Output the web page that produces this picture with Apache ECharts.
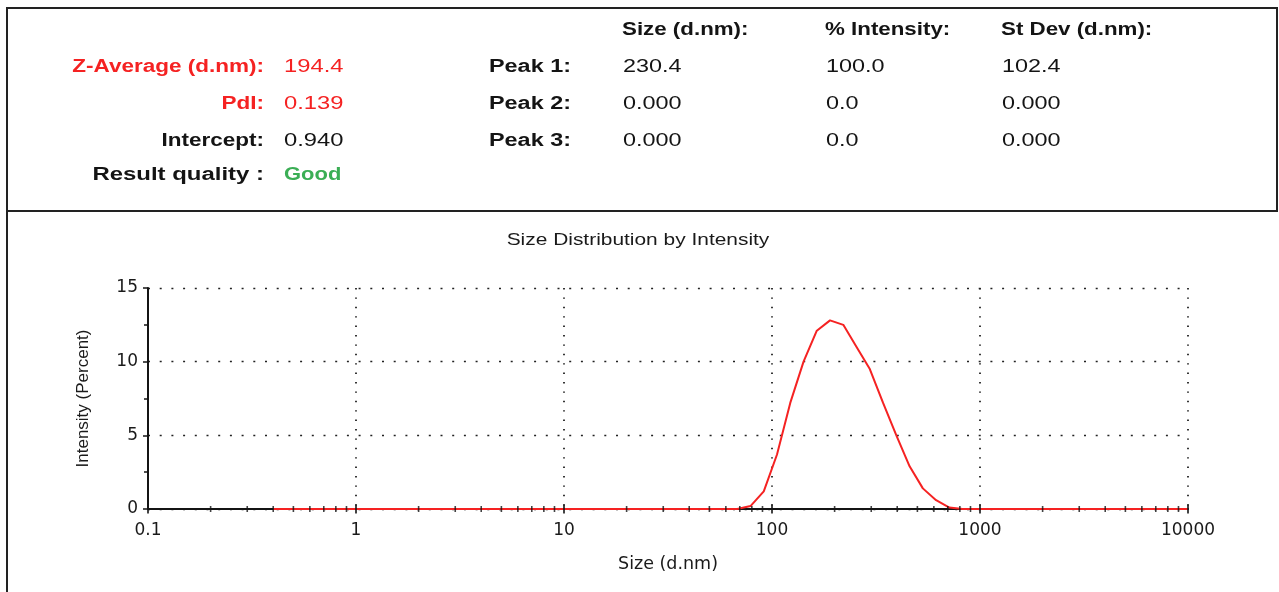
<!DOCTYPE html>
<html>
<head>
<meta charset="utf-8">
<script src="https://cdn.jsdelivr.net/npm/echarts@6/dist/echarts.min.js"></script>
<style>
  html, body { margin: 0; padding: 0; background: #ffffff; }
  #chart { width: 1279px; height: 592px; }
</style>
</head>
<body>
<div id="chart"></div>
<script>
// Size classes (d.nm) of the intensity distribution
const sizes = [
  0.4, 0.4632, 0.5365, 0.6213, 0.7195, 0.8332, 0.9649, 1.117, 1.294, 1.499,
  1.736, 2.01, 2.328, 2.696, 3.122, 3.615, 4.187, 4.849, 5.615, 6.503,
  7.531, 8.721, 10.1, 11.7, 13.54, 15.69, 18.17, 21.04, 24.36, 28.21,
  32.67, 37.84, 43.82, 50.75, 58.77, 68.06, 78.82, 91.28, 105.7, 122.4,
  141.8, 164.2, 190.1, 220.2, 255.0, 295.3, 342.0, 396.1, 458.7, 531.2,
  615.1, 712.4, 825.0, 955.4, 1106, 1281, 1484, 1718, 1990, 2305,
  2669, 3091, 3580, 4145, 4801, 5560, 6439, 7456, 8635, 10000
];

// Intensity (percent) per size class
const intensity = [
  0, 0, 0, 0, 0, 0, 0, 0, 0, 0,
  0, 0, 0, 0, 0, 0, 0, 0, 0, 0,
  0, 0, 0, 0, 0, 0, 0, 0, 0, 0,
  0, 0, 0, 0, 0, 0, 0.2, 1.2, 3.7, 7.2,
  10.0, 12.1, 12.8, 12.5, 11.0, 9.5, 7.2, 5.0, 2.9, 1.4,
  0.6, 0.1, 0, 0, 0, 0, 0, 0, 0, 0,
  0, 0, 0, 0, 0, 0, 0, 0, 0, 0
];

// Summary results
const summaryLabels = ['Z-Average (d.nm):', 'PdI:', 'Intercept:', 'Result quality :'];
const summaryValues = ['194.4', '0.139', '0.940', 'Good'];

// Peak table
const peakHeaders = ['Size (d.nm):', '% Intensity:', 'St Dev (d.nm):'];
const peakLabels = ['Peak 1:', 'Peak 2:', 'Peak 3:'];
const peakSize = ['230.4', '0.000', '0.000'];
const peakIntensity = ['100.0', '0.0', '0.0'];
const peakStDev = ['102.4', '0.000', '0.000'];

// Axis tick layout
const decades = [0.1, 1, 10, 100, 1000, 10000];
const minorSteps = [2, 3, 4, 5, 6, 7, 8, 9];

const RED = '#f52222';
const GREEN = '#3bae55';
const INK = '#141414';
const SANS = '"Liberation Sans", Arial, sans-serif';
const AXIS_FONT = '"DejaVu Sans", sans-serif';

const minorTicks = [];
decades.slice(0, -1).forEach(d => minorSteps.forEach(k => minorTicks.push([d * k, 0])));
const majorTicks = decades.map(d => [d, 0]);

function txt(x, y, text, opts) {
  return {
    type: 'text',
    x: x, y: y,
    scaleX: opts.scaleX || 1.3,
    silent: true,
    style: {
      text: text,
      fill: opts.color || INK,
      font: (opts.bold ? 'bold ' : '') + (opts.size || 18) + 'px ' + SANS,
      textAlign: opts.align || 'left',
      textVerticalAlign: 'middle',
      verticalAlign: 'middle'
    }
  };
}

const rowY = [67, 104, 141, 175];
const graphics = [];

// frame around the results block and the plot panel
graphics.push({
  type: 'rect', silent: true,
  shape: { x: 7, y: 8, width: 1270, height: 203 },
  style: { fill: 'none', stroke: '#222', lineWidth: 2 }
});
graphics.push({
  type: 'line', silent: true,
  shape: { x1: 7, y1: 211, x2: 7, y2: 592 },
  style: { stroke: '#222', lineWidth: 2 }
});

// summary block
const summaryColors = [RED, RED, INK, INK];
const valueColors = [RED, RED, INK, GREEN];
summaryLabels.forEach((s, i) => {
  graphics.push(txt(264, rowY[i], s, {
    bold: true, align: 'right', color: summaryColors[i],
    scaleX: i === 3 ? 1.33 : 1.25
  }));
  graphics.push(txt(284, rowY[i], summaryValues[i], {
    bold: i === 3, color: valueColors[i],
    scaleX: i === 3 ? 1.22 : 1.32
  }));
});

// peak table
const colX = [622, 825, 1001];
peakHeaders.forEach((h, i) => {
  graphics.push(txt(colX[i], 30, h, { bold: true, scaleX: 1.24 }));
});
peakLabels.forEach((p, i) => {
  graphics.push(txt(489, rowY[i], p, { bold: true, scaleX: 1.3 }));
  graphics.push(txt(colX[0] + 1, rowY[i], peakSize[i], { scaleX: 1.3 }));
  graphics.push(txt(colX[1] + 1, rowY[i], peakIntensity[i], { scaleX: 1.3 }));
  graphics.push(txt(colX[2] + 1, rowY[i], peakStDev[i], { scaleX: 1.3 }));
});

// plot title
graphics.push(txt(638, 240, 'Size Distribution by Intensity', {
  align: 'center', size: 17, scaleX: 1.23, color: '#1a1a1a'
}));

const chart = echarts.init(document.getElementById('chart'), null, { renderer: 'canvas' });

chart.setOption({
  animation: false,
  backgroundColor: '#ffffff',
  graphic: graphics,
  grid: { left: 148, right: 91, top: 288, bottom: 83, containLabel: false },
  xAxis: {
    type: 'log',
    logBase: 10,
    min: 0.1,
    max: 10000,
    z: 0,
    name: 'Size (d.nm)',
    nameLocation: 'middle',
    nameGap: 46,
    nameTextStyle: { fontFamily: AXIS_FONT, fontSize: 17.5, color: '#1a1a1a' },
    axisLine: { show: true, onZero: false, lineStyle: { color: INK, width: 2 } },
    axisTick: { show: false },
    minorTick: { show: false },
    axisLabel: {
      margin: 13,
      fontFamily: AXIS_FONT, fontSize: 17, color: '#1a1a1a',
      formatter: v => String(Number(Number(v).toPrecision(4)))
    },
    splitLine: {
      show: true,
      lineStyle: { color: '#222', width: 1.8, type: [1.4, 8] }
    }
  },
  yAxis: {
    type: 'value',
    min: 0,
    max: 15,
    interval: 5,
    z: 0,
    name: 'Intensity (Percent)',
    nameLocation: 'middle',
    nameGap: 56,
    nameRotate: 90,
    nameTextStyle: { fontFamily: SANS, fontSize: 17, color: '#1a1a1a' },
    axisLine: { show: true, lineStyle: { color: INK, width: 2 } },
    axisTick: { show: true, length: 5, lineStyle: { color: INK, width: 1.5 } },
    minorTick: { show: true, splitNumber: 2, length: 4, lineStyle: { color: INK, width: 1.5 } },
    axisLabel: { margin: 10, fontFamily: AXIS_FONT, fontSize: 17, color: '#1a1a1a' },
    splitLine: {
      show: true,
      lineStyle: { color: '#222', width: 1.4, type: [2, 9.7] }
    }
  },
  series: [
    {
      name: 'Intensity',
      type: 'line',
      data: sizes.map((s, i) => [s, intensity[i]]),
      showSymbol: false,
      symbol: 'none',
      clip: false,
      z: 10,
      lineStyle: { color: RED, width: 2 }
    },
    {
      name: 'minor ticks',
      type: 'scatter',
      data: minorTicks,
      symbol: 'rect',
      symbolSize: [1.6, 6],
      clip: false,
      silent: true,
      z: 12,
      itemStyle: { color: INK }
    },
    {
      name: 'major ticks',
      type: 'scatter',
      data: majorTicks,
      symbol: 'rect',
      symbolSize: [2, 9],
      clip: false,
      silent: true,
      z: 12,
      itemStyle: { color: INK }
    }
  ]
});
</script>
</body>
</html>
